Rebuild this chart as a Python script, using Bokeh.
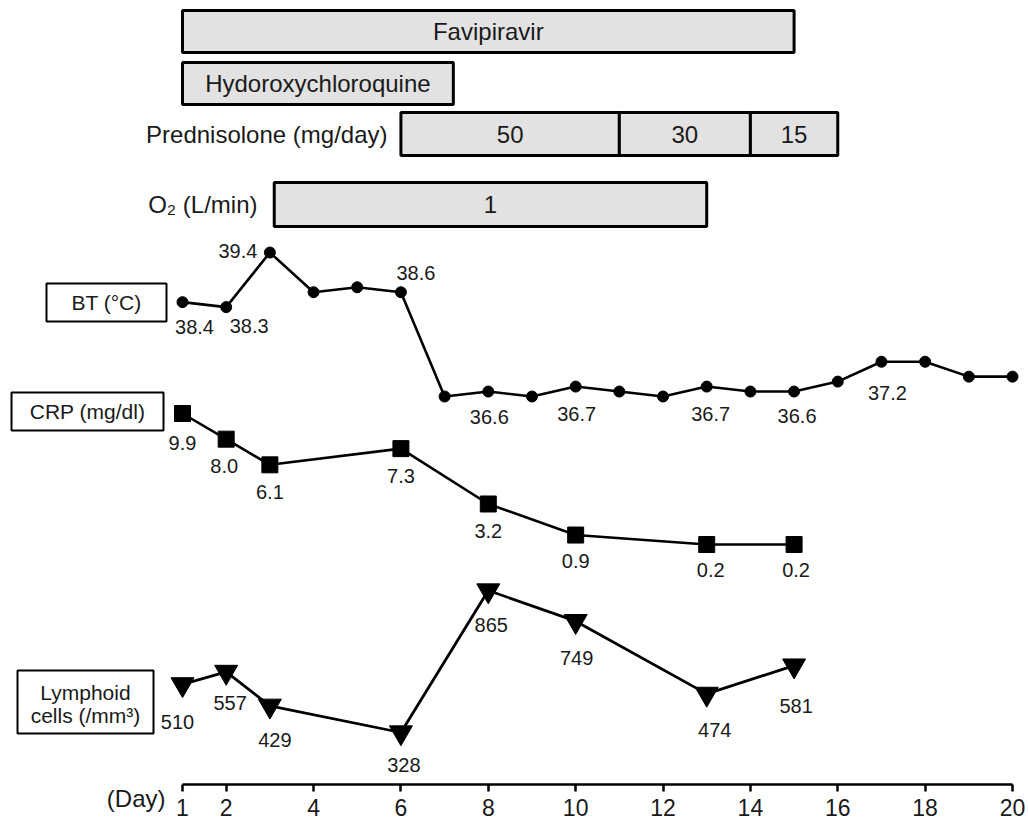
from bokeh.plotting import figure
from bokeh.models import Range1d, LinearAxis, FixedTicker, ColumnDataSource
from bokeh.embed import file_html
from bokeh.resources import INLINE
from bokeh.core.properties import value

# ---------------- data ----------------
bt_days = list(range(1, 21))
bt_vals = [38.4, 38.3, 39.4, 38.6, 38.7, 38.6, 36.5, 36.6, 36.5, 36.7,
           36.6, 36.5, 36.7, 36.6, 36.6, 36.8, 37.2, 37.2, 36.9, 36.9]
bt_label_days = [1, 2, 3, 6, 8, 10, 13, 15, 17]

crp_days = [1, 2, 3, 6, 8, 10, 13, 15]
crp_vals = [9.9, 8.0, 6.1, 7.3, 3.2, 0.9, 0.2, 0.2]

lym_days = [1, 2, 3, 6, 8, 10, 13, 15]
lym_vals = [510, 557, 429, 328, 865, 749, 474, 581]

tick_days = [1, 2, 4, 6, 8, 10, 12, 14, 16, 18, 20]

fav_name = "Favipiravir"
fav_start, fav_end = 1, 15
hcq_name = "Hydoroxychloroquine"
hcq_start, hcq_end = 1, 7.2
pred_start = [6, 11, 14]
pred_end = [11, 14, 16]
pred_dose = ["50", "30", "15"]
o2_start = [3.1]
o2_end = [13]
o2_flow = ["1"]

# ---------------- layout ----------------
FONT = value("Liberation Sans")
TXT = "#1a1a1a"
W, H = 1028, 819
X_LEFT, X_RIGHT = 0, 1028
Y_TOP, Y_BOTTOM = 0, 819
AXIS_Y = 784


def span(a, pa, b, pb, lo, hi):
    k = (b - a) / (pb - pa)
    return a + k * (lo - pa), a + k * (hi - pa)


x0, x1 = span(1, 182, 20, 1012, X_LEFT, X_RIGHT)

p = figure(width=W, height=H, x_range=Range1d(x0, x1), y_range=Range1d(Y_BOTTOM, Y_TOP),
           output_backend="svg", toolbar_location=None, min_border=0,
           x_axis_location=None, y_axis_location=None)
p.grid.visible = False
p.outline_line_color = None
p.background_fill_color = "white"
p.border_fill_color = "white"

p.extra_x_ranges = {"px": Range1d(X_LEFT, X_RIGHT)}
p.extra_y_ranges = {
    "bt": Range1d(*span(39.4, 252, 36.5, 396, Y_BOTTOM, Y_TOP)),
    "crp": Range1d(*span(9.9, 413, 0.2, 544, Y_BOTTOM, Y_TOP)),
    "lym": Range1d(*span(865, 590, 328, 732, Y_BOTTOM, Y_TOP)),
}

ax = LinearAxis(ticker=FixedTicker(ticks=tick_days), bounds=(1, 20), fixed_location=AXIS_Y)
ax.axis_line_width = 2.5
ax.axis_line_color = "black"
ax.major_tick_line_width = 2.5
ax.major_tick_out = 7
ax.major_tick_in = 0
ax.minor_tick_out = 0
ax.minor_tick_in = 0
ax.major_label_text_font = "Liberation Sans"
ax.major_label_text_font_size = "23px"
ax.major_label_text_color = TXT
ax.major_label_standoff = 7
p.add_layout(ax, "below")

# ---------------- treatment bars ----------------
BAR_FILL = "#e2e2e2"
rows = {"fav": (10, 52), "hcq": (62, 104), "pred": (112, 155), "o2": (182, 226)}

bars = ColumnDataSource(dict(
    left=[fav_start, hcq_start] + pred_start + o2_start,
    right=[fav_end, hcq_end] + pred_end + o2_end,
    top=[rows["fav"][0], rows["hcq"][0]] + [rows["pred"][0]] * 3 + [rows["o2"][0]],
    bottom=[rows["fav"][1], rows["hcq"][1]] + [rows["pred"][1]] * 3 + [rows["o2"][1]],
    label=[fav_name, hcq_name] + pred_dose + o2_flow,
))
bars.data["xm"] = [(l + r) / 2 for l, r in zip(bars.data["left"], bars.data["right"])]
bars.data["ym"] = [(t + b) / 2 for t, b in zip(bars.data["top"], bars.data["bottom"])]
p.quad(left="left", right="right", top="top", bottom="bottom", source=bars,
       fill_color=BAR_FILL, line_color="black", line_width=3)
p.text(x="xm", y="ym", text="label", source=bars, text_font=FONT, text_font_size="24px",
       text_align="center", text_baseline="middle", text_color=TXT)

# row labels left of bars
p.text(x=[387, 257], y=[sum(rows["pred"]) / 2, sum(rows["o2"]) / 2],
       text=["Prednisolone (mg/day)", "O\u2082 (L/min)"], x_range_name="px",
       text_font=FONT, text_font_size="24px", text_align="right", text_baseline="middle",
       text_color=TXT)

# ---------------- series label boxes ----------------
p.quad(left=[46, 11, 17], right=[166, 163, 153], top=[283, 392, 670], bottom=[321, 430, 733],
       x_range_name="px", fill_color="white", line_color="black", line_width=2)
p.text(x=[106, 87, 85, 85], y=[302, 411, 692, 715],
       text=["BT (\u00b0C)", "CRP (mg/dl)", "Lymphoid", "cells (/mm\u00b3)"],
       x_range_name="px", text_font=FONT, text_font_size="21px", text_align="center",
       text_baseline="middle", text_color=TXT)

# ---------------- series ----------------
LW = 2.6
# Body temperature
p.line(bt_days, bt_vals, y_range_name="bt", line_color="black", line_width=LW)
p.scatter(bt_days, bt_vals, y_range_name="bt", marker="circle", size=11,
          fill_color="black", line_color="black")
bt_lab = ColumnDataSource(dict(
    x=bt_label_days,
    y=[bt_vals[d - 1] for d in bt_label_days],
    text=[f"{bt_vals[d - 1]:.1f}" for d in bt_label_days],
    dx=[12, 23, -32, 15, 1, 1, 4, 3, 6],
    dy=[25, 19, -2, -19, 25, 27, 27, 24, 31],
))
p.text(x="x", y="y", text="text", x_offset="dx", y_offset="dy", source=bt_lab,
       y_range_name="bt", text_font=FONT, text_font_size="20px", text_align="center",
       text_baseline="middle", text_color=TXT)

# CRP
p.line(crp_days, crp_vals, y_range_name="crp", line_color="black", line_width=LW)
p.scatter(crp_days, crp_vals, y_range_name="crp", marker="square", size=16,
          fill_color="black", line_color="black")
crp_lab = ColumnDataSource(dict(
    x=crp_days, y=crp_vals, text=[f"{v:.1f}" for v in crp_vals],
    dx=[0, -2, 0, 0, 0, 0, 4, 2],
    dy=[29, 27, 27, 27, 27, 26, 25, 25],
))
p.text(x="x", y="y", text="text", x_offset="dx", y_offset="dy", source=crp_lab,
       y_range_name="crp", text_font=FONT, text_font_size="20px", text_align="center",
       text_baseline="middle", text_color=TXT)

# Lymphoid cells
p.line(lym_days, lym_vals, y_range_name="lym", line_color="black", line_width=2.8)
p.scatter(lym_days, lym_vals, y_range_name="lym", marker="inverted_triangle", size=23,
          fill_color="black", line_color="black")
lym_lab = ColumnDataSource(dict(
    x=lym_days, y=lym_vals, text=[str(v) for v in lym_vals],
    dx=[-5, 4, 5, 3, 3, 1, 8, 2],
    dy=[38, 31, 34, 32, 34, 37, 36, 40],
))
p.text(x="x", y="y", text="text", x_offset="dx", y_offset="dy", source=lym_lab,
       y_range_name="lym", text_font=FONT, text_font_size="20px", text_align="center",
       text_baseline="middle", text_color=TXT)

# axis caption
p.text(x=[165], y=[798], x_range_name="px", text=["(Day)"], text_font=FONT,
       text_font_size="24px", text_align="right", text_baseline="middle", text_color=TXT)

open("out.html", "w").write(file_html(p, INLINE))
